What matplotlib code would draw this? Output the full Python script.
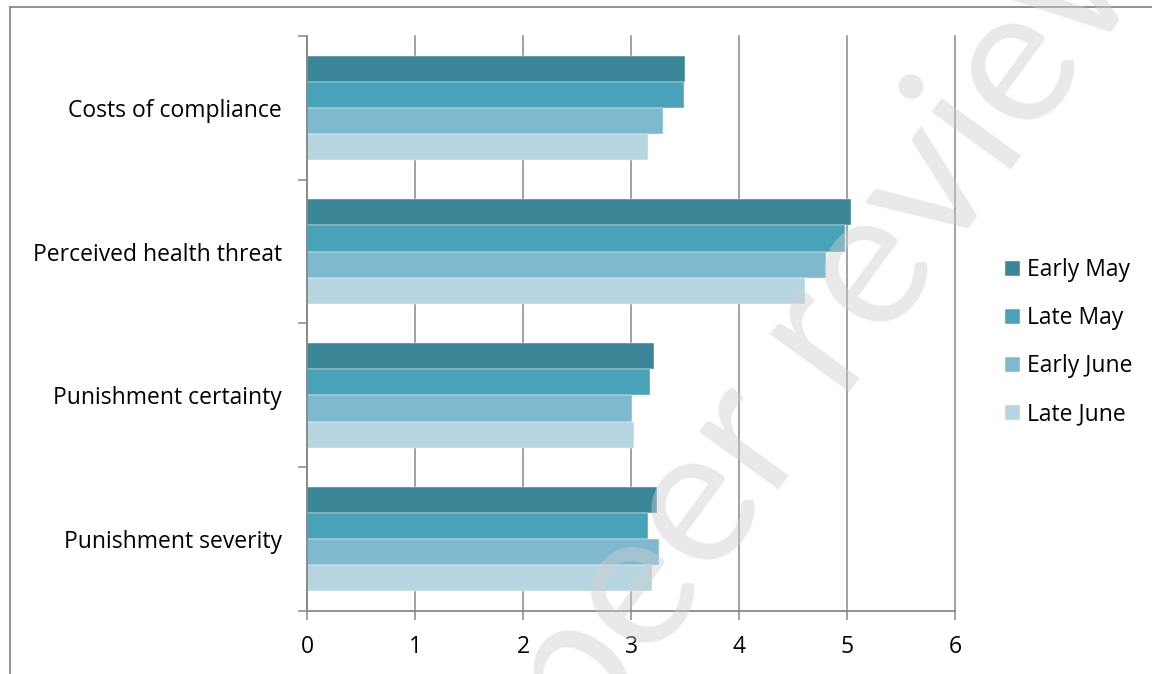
import matplotlib
matplotlib.use("Agg")
import matplotlib.pyplot as plt
from matplotlib.lines import Line2D
import numpy as np

plt.rcParams['font.family'] = ['Open Sans', 'DejaVu Sans']

categories = ['Costs of compliance', 'Perceived health threat',
              'Punishment certainty', 'Punishment severity']
periods = ['Early May', 'Late May', 'Early June', 'Late June']
early_may = [3.50, 5.04, 3.21, 3.24]
late_may = [3.49, 4.98, 3.18, 3.16]
early_june = [3.30, 4.81, 3.01, 3.26]
late_june = [3.16, 4.61, 3.03, 3.19]
series = [early_may, late_may, early_june, late_june]
colors = ['#3a8597', '#48a2ba', '#7eb9cf', '#b7d5e0']

grid_col = '#888888'
fs = 16.5

fig = plt.figure(figsize=(11.52, 6.74), dpi=100)
ax = fig.add_axes([0.2665, 0.0935, 0.8290 - 0.2665, 0.9466 - 0.0935])

y = np.arange(len(categories))
h = 0.182
offsets = [-1.5 * h, -0.5 * h, 0.5 * h, 1.5 * h]
for vals, off, c, lab in zip(series, offsets, colors, periods):
    ax.barh(y + off, vals, height=h, color=c, edgecolor='white', linewidth=0.3,
            label=lab, zorder=2)

ax.set_xlim(0, 6)
ax.set_ylim(len(categories) - 0.5, -0.5)
ax.set_xticks(range(7))
ax.xaxis.grid(True, color=grid_col, linewidth=1.1, zorder=0)
ax.set_axisbelow(True)
for gl in ax.get_xgridlines():
    gl.set_clip_on(False)

# category ticks sit at the group boundaries, labels in the middle
ax.set_yticks(np.arange(-0.5, len(categories), 1.0))
ax.set_yticklabels([])
ax.set_yticks(y, minor=True)
ax.set_yticklabels(categories, minor=True)
ax.tick_params(axis='y', which='major', length=6.5, width=1.1, color=grid_col, direction='out')
ax.tick_params(axis='y', which='minor', length=0, pad=18, labelsize=fs)
ax.tick_params(axis='x', length=6.5, width=1.1, color=grid_col, direction='out',
               pad=11, labelsize=fs)

for s in ['top', 'right']:
    ax.spines[s].set_visible(False)
for s in ['left', 'bottom']:
    ax.spines[s].set_color(grid_col)
    ax.spines[s].set_linewidth(1.3)

ax.legend(loc='center left', bbox_to_anchor=(0.8646, 0.492), bbox_transform=fig.transFigure,
          frameon=False, fontsize=fs, handlelength=0.65, handleheight=0.65,
          handletextpad=0.3, labelspacing=1.05, borderaxespad=0)

# chart frame (only left and top edges fall inside the picture)
fig.add_artist(Line2D([10 / 1152, 10 / 1152], [0, 1 - 7 / 674], color=grid_col,
                      linewidth=1.3, transform=fig.transFigure))
fig.add_artist(Line2D([10 / 1152, 1], [1 - 7 / 674, 1 - 7 / 674], color=grid_col,
                      linewidth=1.3, transform=fig.transFigure))

# faint watermark
fig.text(0.728, 0.535, 'peer review', rotation=54, rotation_mode='anchor',
         ha='center', va='center', fontsize=140, family='Lato',
         color='#cfcfcf', alpha=0.45, zorder=10)

fig.savefig('out.png', dpi=100)
